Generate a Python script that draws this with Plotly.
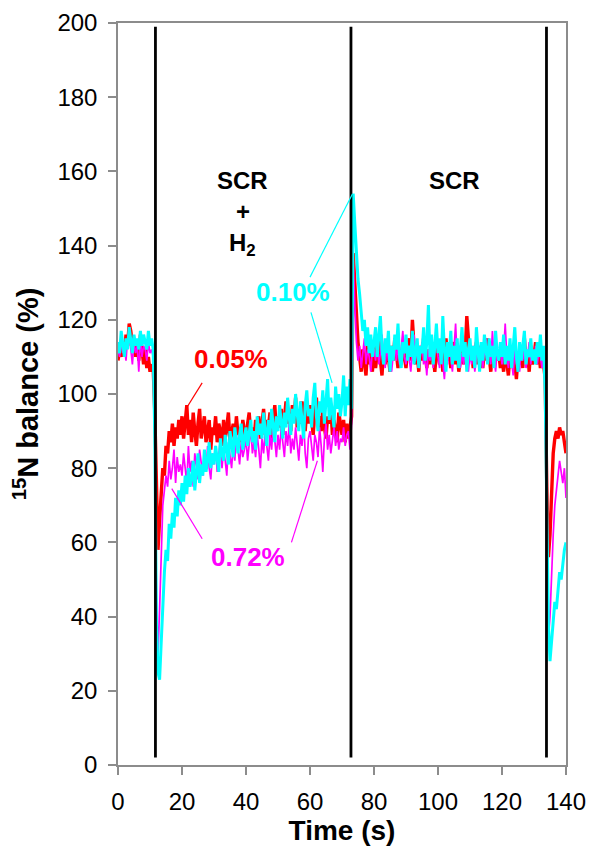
import numpy as np
import plotly.graph_objects as go

# time axis (s), 0.5 s sampling
TIME = list(np.arange(0, 140.5, 0.5))

RED_005 = [
    109, 112, 110, 114, 111, 116, 113, 119, 117, 113, 115, 110, 114, 109, 116, 111, 108, 112, 107, 110,
    106, 108, 107, 95, 72, 58, 66, 74, 80, 78, 86, 84, 90, 87, 92, 86, 91, 88, 93, 89,
    94, 88, 92, 97, 89, 93, 87, 95, 90, 86, 92, 96, 88, 91, 94, 87, 90, 93, 85, 91,
    89, 94, 87, 92, 90, 86, 93, 88, 91, 95, 87, 90, 92, 88, 94, 89, 91, 87, 93, 90,
    88, 92, 95, 89, 91, 87, 93, 90, 94, 88, 92, 96, 89, 93, 91, 95, 88, 92, 97, 90,
    94, 91, 96, 89, 93, 98, 92, 95, 90, 97, 93, 99, 91, 95, 92, 98, 94, 90, 96, 92,
    97, 93, 89, 95, 99, 92, 94, 90, 96, 91, 88, 94, 92, 97, 89, 93, 90, 87, 95, 91,
    89, 93, 87, 92, 88, 91, 94, 138, 130, 121, 114, 110, 106, 112, 108, 105, 113, 108, 111, 106,
    113, 107, 111, 116, 109, 105, 112, 108, 114, 110, 106, 113, 109, 115, 111, 107, 112, 108, 113, 110,
    107, 112, 115, 109, 120, 113, 108, 111, 106, 113, 109, 115, 110, 107, 112, 108, 114, 110, 106, 111,
    113, 108, 112, 106, 110, 115, 109, 112, 107, 111, 114, 108, 112, 106, 110, 113, 108, 111, 121, 114,
    109, 112, 107, 111, 114, 108, 110, 113, 107, 112, 109, 115, 110, 106, 112, 108, 113, 109, 111, 107,
    110, 106, 112, 108, 105, 111, 107, 113, 109, 104, 110, 108, 112, 107, 115, 109, 111, 106, 113, 108,
    110, 114, 108, 112, 107, 111, 108, 104, 75, 56, 62, 76, 84, 88, 90, 88, 91, 89, 90, 87,
    84,
]

MAGENTA_072 = [
    112, 110, 114, 111, 113, 109, 115, 116, 112, 108, 114, 111, 113, 106, 115, 110, 113, 112, 109, 114,
    111, 112, 110, 92, 45, 30, 42, 58, 70, 74, 78, 75, 82, 77, 80, 85, 76, 83, 79, 81,
    78, 84, 80, 76, 86, 79, 82, 75, 84, 80, 77, 85, 81, 78, 83, 79, 86, 80, 77, 84,
    81, 86, 79, 83, 88, 80, 85, 82, 78, 87, 83, 80, 86, 82, 89, 84, 81, 87, 83, 85,
    88, 82, 86, 91, 84, 87, 83, 89, 85, 80, 88, 84, 90, 86, 82, 89, 85, 92, 87, 83,
    89, 85, 91, 87, 83, 90, 86, 92, 84, 88, 85, 91, 87, 82, 89, 86, 93, 84, 80, 88,
    90, 85, 82, 89, 87, 83, 91, 86, 79, 88, 92, 85, 89, 84, 87, 91, 86, 90, 85, 88,
    87, 91, 86, 89, 90, 85, 92, 136, 124, 114, 109, 113, 107, 111, 115, 108, 112, 110, 106, 112,
    112, 109, 114, 108, 111, 116, 110, 107, 113, 109, 112, 106, 111, 115, 109, 113, 108, 112, 117, 110,
    108, 113, 110, 106, 112, 116, 109, 113, 107, 111, 114, 108, 110, 105, 112, 109, 113, 107, 111, 115,
    110, 107, 113, 109, 104, 111, 108, 114, 110, 106, 112, 119, 109, 113, 107, 111, 108, 112, 110, 106,
    111, 108, 113, 106, 110, 114, 109, 112, 107, 111, 115, 109, 113, 108, 117, 110, 106, 112, 109, 113,
    108, 111, 119, 110, 107, 113, 109, 105, 112, 108, 111, 106, 113, 109, 112, 107, 110, 114, 108, 112,
    109, 113, 108, 111, 110, 107, 111, 102, 60, 34, 40, 52, 62, 70, 75, 78, 82, 79, 76, 80,
    72,
]

CYAN_010 = [
    114, 111, 117, 113, 110, 115, 112, 118, 114, 111, 116, 113, 115, 112, 117, 113, 116, 114, 112, 117,
    113, 115, 112, 88, 40, 25, 23, 33, 45, 52, 58, 55, 65, 61, 68, 64, 72, 67, 74, 70,
    76, 71, 78, 73, 80, 75, 77, 82, 74, 79, 84, 76, 81, 78, 85, 79, 82, 87, 80, 84,
    81, 86, 83, 79, 88, 84, 82, 89, 85, 81, 90, 86, 83, 91, 87, 84, 89, 92, 85, 88,
    91, 86, 89, 93, 87, 90, 85, 94, 89, 92, 88, 95, 90, 86, 93, 89, 96, 91, 87, 94,
    90, 97, 92, 88, 95, 91, 99, 93, 89, 96, 92, 100, 94, 90, 98, 93, 88, 97, 101, 94,
    96, 91, 99, 103, 94, 90, 98, 95, 101, 92, 97, 104, 93, 99, 95, 91, 102, 96, 100, 94,
    98, 105, 94, 102, 97, 104, 96, 154, 146, 137, 131, 127, 121, 117, 120, 113, 118, 111, 116, 110,
    114, 118, 110, 116, 121, 112, 108, 115, 111, 117, 106, 113, 109, 116, 112, 119, 110, 107, 114, 111,
    116, 109, 113, 110, 117, 108, 112, 115, 107, 113, 111, 118, 109, 114, 124, 110, 116, 108, 113, 119,
    111, 115, 108, 121, 112, 106, 114, 110, 117, 108, 113, 109, 115, 107, 112, 118, 110, 114, 106, 112,
    115, 109, 113, 107, 118, 111, 106, 114, 109, 116, 112, 108, 115, 110, 113, 107, 117, 111, 109, 114,
    110, 116, 108, 113, 109, 115, 107, 112, 118, 110, 106, 114, 109, 113, 117, 108, 112, 110, 115, 109,
    112, 108, 114, 110, 116, 109, 113, 100, 62, 38, 28, 33, 38, 44, 42, 48, 52, 50, 55, 58,
    60,
]

# gas switching times (s)
SWITCH_TIMES = [11.7, 72.8, 133.9]

X_TICKS = [0, 20, 40, 60, 80, 100, 120, 140]
Y_TICKS = [0, 20, 40, 60, 80, 100, 120, 140, 160, 180, 200]

RED = "#FF0000"
MAGENTA = "#FF00FF"
CYAN = "#00FFFF"
GRAY = "#8C8C8C"

fig = go.Figure()

fig.add_trace(go.Scatter(x=TIME, y=RED_005, mode="lines",
                         line=dict(color=RED, width=3.4), showlegend=False))
fig.add_trace(go.Scatter(x=TIME, y=MAGENTA_072, mode="lines",
                         line=dict(color=MAGENTA, width=1.7), showlegend=False))
fig.add_trace(go.Scatter(x=TIME, y=CYAN_010, mode="lines",
                         line=dict(color=CYAN, width=3.0), showlegend=False))

for ts in SWITCH_TIMES:
    fig.add_trace(go.Scatter(x=[ts, ts], y=[2, 199], mode="lines",
                             line=dict(color="black", width=2.8), showlegend=False))

# labels: (text, x, y, color)
LABELS = [
    ("0.05%", 35.3, 109.5, RED),
    ("0.10%", 54.6, 127.5, CYAN),
    ("0.72%", 40.6, 56.0, MAGENTA),
]
# leader lines: (x0, y0, x1, y1, color, width)
LEADERS = [
    (26.3, 103.0, 21.6, 96.5, RED, 1.2),
    (60.0, 131.5, 73.3, 154.0, CYAN, 1.2),
    (60.3, 122.0, 66.9, 103.0, CYAN, 1.2),
    (26.3, 61.0, 16.8, 74.5, MAGENTA, 1.2),
    (54.2, 60.0, 62.3, 82.0, MAGENTA, 1.2),
]
# phase texts: (text, x, y)
PHASES = [
    ("SCR", 39.0, 157.5),
    ("+", 39.0, 149.3),
    ("H<sub>2</sub>", 39.0, 140.3),
    ("SCR", 105.3, 157.5),
]

annotations = []
for text, x, y, col in LABELS:
    annotations.append(dict(x=x, y=y, xref="x", yref="y", text=f"<b>{text}</b>",
                            showarrow=False, font=dict(family="Liberation Sans, Arial",
                                                       size=26, color=col)))
for text, x, y in PHASES:
    annotations.append(dict(x=x, y=y, xref="x", yref="y", text=f"<b>{text}</b>",
                            showarrow=False, font=dict(family="Liberation Sans, Arial",
                                                       size=24, color="black")))

shapes = []
for x0, y0, x1, y1, col, w in LEADERS:
    shapes.append(dict(type="line", xref="x", yref="y", x0=x0, y0=y0, x1=x1, y1=y1,
                       line=dict(color=col, width=w)))

fig.update_layout(
    width=590, height=852,
    margin=dict(l=118, r=24, t=23, b=87, autoexpand=False),
    paper_bgcolor="white", plot_bgcolor="white",
    font=dict(family="Liberation Sans, Arial", size=24, color="black"),
    annotations=annotations,
    shapes=shapes,
    showlegend=False,
)
fig.update_xaxes(range=[0, 140], tickvals=X_TICKS, ticks="outside", ticklen=8,
                 tickcolor=GRAY, tickwidth=1.5, showline=True, linecolor=GRAY,
                 linewidth=1.5, mirror=True, showgrid=False, zeroline=False,
                 automargin=False,
                 tickfont=dict(size=24), ticklabelstandoff=6,
                 title=dict(text="<b>Time (s)</b>", font=dict(size=28), standoff=6))
fig.update_yaxes(range=[0, 200], tickvals=Y_TICKS, ticks="outside", ticklen=8,
                 tickcolor=GRAY, tickwidth=1.5, showline=True, linecolor=GRAY,
                 linewidth=1.5, mirror=True, showgrid=False, zeroline=False,
                 automargin=False,
                 tickfont=dict(size=24), ticklabelstandoff=6,
                 title=dict(text="<b><sup>15</sup>N balance (%)</b>", font=dict(size=29),
                            standoff=10))

fig.write_html("out.html")
